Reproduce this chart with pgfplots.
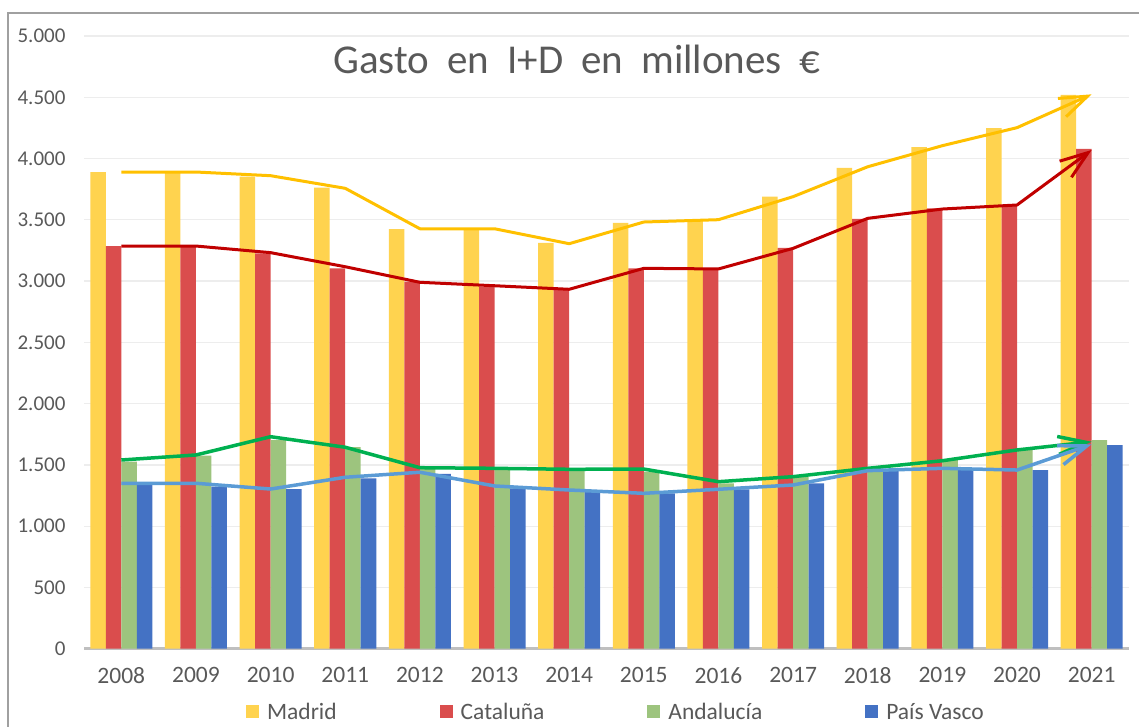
\documentclass[border=0pt]{standalone}
\usepackage{fontspec}
\setmainfont{Carlito}
\usepackage{pgfplots}
\pgfplotsset{compat=1.18}
\usetikzlibrary{arrows.meta}
\definecolor{cMad}{HTML}{FFD34F}
\definecolor{cCat}{HTML}{DA4D4D}
\definecolor{cAnd}{HTML}{9DC47E}
\definecolor{cPV}{HTML}{4472C4}
\definecolor{lMad}{HTML}{FFC000}
\definecolor{lCat}{HTML}{C00000}
\definecolor{lAnd}{HTML}{00B050}
\definecolor{lPV}{HTML}{5B9BD5}
\definecolor{ctext}{HTML}{595959}
\definecolor{cgrid}{HTML}{EDEDED}
\definecolor{caxis}{HTML}{BFBFBF}
\definecolor{cborder}{HTML}{A0A0A0}
\begin{document}
\begin{tikzpicture}
\useasboundingbox (0,0) rectangle (1139pt,726pt);
\draw[cborder, line width=1.2pt] (8pt,-20pt) -- (8pt,713pt) -- (1160pt,713pt);
\begin{axis}[
  at={(84pt,77.3pt)}, anchor=south west,
  width=1045pt, height=612.7pt, scale only axis,
  xmin=-0.5, xmax=13.5, ymin=0, ymax=5000,
  xtick={0,...,13},
  xticklabels={2008,2009,2010,2011,2012,2013,2014,2015,2016,2017,2018,2019,2020,2021},
  ytick={0,500,...,5000},
  yticklabels={0,500,1.000,1.500,2.000,2.500,3.000,3.500,4.000,4.500,5.000},
  major tick length=0pt,
  axis lines*=left,
  y axis line style={draw=none},
  x axis line style={draw=caxis, line width=2.5pt},
  ymajorgrids, grid style={draw=cgrid, line width=1.3pt},
  yticklabel style={font=\fontsize{21}{21}\selectfont, text=ctext, xshift=-15pt},
  xticklabel style={font=\fontsize{23.5}{23.5}\selectfont, text=ctext, yshift=-15pt},
  legend columns=4,
  legend style={at={(0.509,-0.1033)}, anchor=center, draw=none, fill=none,
    font=\fontsize{23.5}{23.5}\selectfont, text=ctext,
    /tikz/every even column/.append style={column sep=101pt}},
  legend image code/.code={\fill[#1,draw=none] (0pt,-6.5pt) rectangle (13pt,6.5pt); \path (19pt,0pt);},
]
\addplot[ybar, bar width=15.5pt, bar shift=-23.25pt, fill=cMad, draw=none] coordinates {
(0,3890) (1,3880) (2,3852) (3,3762) (4,3425) (5,3430) (6,3311) (7,3476) (8,3498) (9,3689) (10,3923) (11,4094) (12,4249) (13,4519)};
\addlegendentry{Madrid}
\addplot[ybar, bar width=15.5pt, bar shift=-7.75pt, fill=cCat, draw=none] coordinates {
(0,3286) (1,3286) (2,3227) (3,3104) (4,2995) (5,2954) (6,2927) (7,3104) (8,3099) (9,3272) (10,3507) (11,3594) (12,3621) (13,4078)};
\addlegendentry{Cataluña}
\addplot[ybar, bar width=15.5pt, bar shift=7.75pt, fill=cAnd, draw=none] coordinates {
(0,1526) (1,1575) (2,1703) (3,1644) (4,1475) (5,1460) (6,1460) (7,1445) (8,1350) (9,1404) (10,1472) (11,1540) (12,1627) (13,1703)};
\addlegendentry{Andalucía}
\addplot[ybar, bar width=15.5pt, bar shift=23.25pt, fill=cPV, draw=none] coordinates {
(0,1336) (1,1322) (2,1303) (3,1390) (4,1426) (5,1309) (6,1281) (7,1268) (8,1301) (9,1350) (10,1458) (11,1458) (12,1458) (13,1662)};
\addlegendentry{País Vasco}
\addplot[sharp plot, no marks, forget plot, color=lMad, line width=3pt, line join=round,
  -{Straight Barb[length=28pt,width=20pt]}] coordinates {
(0,3890) (1,3890) (2,3860) (3,3757) (4,3427) (5,3427) (6,3305) (7,3482) (8,3501) (9,3689) (10,3933) (11,4105) (12,4252) (13,4524)};
\addplot[sharp plot, no marks, forget plot, color=lCat, line width=3pt, line join=round,
  -{Straight Barb[length=28pt,width=20pt]}] coordinates {
(0,3286) (1,3286) (2,3232) (3,3117) (4,2990) (5,2962) (6,2933) (7,3104) (8,3099) (9,3267) (10,3512) (11,3588) (12,3621) (13,4070)};
\addplot[sharp plot, no marks, forget plot, color=lAnd, line width=3.5pt, line join=round,
  -{Straight Barb[length=28pt,width=18pt]}] coordinates {
(0,1540) (1,1581) (2,1730) (3,1644) (4,1477) (5,1472) (6,1464) (7,1466) (8,1363) (9,1404) (10,1472) (11,1534) (12,1622) (13,1689)};
\addplot[sharp plot, no marks, forget plot, color=lPV, line width=3.5pt, line join=round,
  -{Straight Barb[length=28pt,width=20pt]}] coordinates {
(0,1350) (1,1350) (2,1303) (3,1399) (4,1440) (5,1328) (6,1295) (7,1268) (8,1301) (9,1336) (10,1453) (11,1472) (12,1458) (13,1668)};
\end{axis}
\node[font=\fontsize{41}{41}\selectfont, text=ctext, anchor=base] at (577pt,652pt)
  {Gasto\hspace{18pt}en\hspace{18pt}I+D\hspace{18pt}en\hspace{18pt}millones\hspace{18pt}€};
\end{tikzpicture}
\end{document}
